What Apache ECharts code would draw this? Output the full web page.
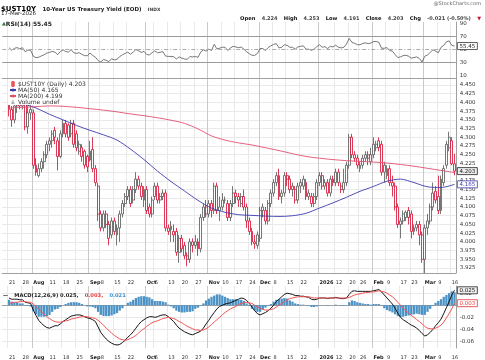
<!DOCTYPE html>
<html><head><meta charset="utf-8">
<script src="https://cdn.jsdelivr.net/npm/echarts@6/dist/echarts.min.js"></script>
<style>html,body{margin:0;padding:0;background:#fff}#c{width:485px;height:360px}</style>
</head><body><div id="c"></div>
<script>
// ---------- DATA ----------
const dates = ['2025-07-17','2025-07-18','2025-07-21','2025-07-22','2025-07-23','2025-07-24','2025-07-25','2025-07-28','2025-07-29','2025-07-30','2025-07-31','2025-08-01','2025-08-04','2025-08-05','2025-08-06','2025-08-07','2025-08-08','2025-08-11','2025-08-12','2025-08-13','2025-08-14','2025-08-15','2025-08-18','2025-08-19','2025-08-20','2025-08-21','2025-08-22','2025-08-25','2025-08-26','2025-08-27','2025-08-28','2025-08-29','2025-09-02','2025-09-03','2025-09-04','2025-09-05','2025-09-08','2025-09-09','2025-09-10','2025-09-11','2025-09-12','2025-09-15','2025-09-16','2025-09-17','2025-09-18','2025-09-19','2025-09-22','2025-09-23','2025-09-24','2025-09-25','2025-09-26','2025-09-29','2025-09-30','2025-10-01','2025-10-02','2025-10-03','2025-10-06','2025-10-07','2025-10-08','2025-10-09','2025-10-10','2025-10-13','2025-10-14','2025-10-15','2025-10-16','2025-10-17','2025-10-20','2025-10-21','2025-10-22','2025-10-23','2025-10-24','2025-10-27','2025-10-28','2025-10-29','2025-10-30','2025-10-31','2025-11-03','2025-11-04','2025-11-05','2025-11-06','2025-11-07','2025-11-10','2025-11-11','2025-11-12','2025-11-13','2025-11-14','2025-11-17','2025-11-18','2025-11-19','2025-11-20','2025-11-21','2025-11-24','2025-11-25','2025-11-26','2025-11-28','2025-12-01','2025-12-02','2025-12-03','2025-12-04','2025-12-05','2025-12-08','2025-12-09','2025-12-10','2025-12-11','2025-12-12','2025-12-15','2025-12-16','2025-12-17','2025-12-18','2025-12-19','2025-12-22','2025-12-23','2025-12-24','2025-12-26','2025-12-29','2025-12-30','2025-12-31','2026-01-02','2026-01-05','2026-01-06','2026-01-07','2026-01-08','2026-01-09','2026-01-12','2026-01-13','2026-01-14','2026-01-15','2026-01-16','2026-01-20','2026-01-21','2026-01-22','2026-01-23','2026-01-26','2026-01-27','2026-01-28','2026-01-29','2026-01-30','2026-02-02','2026-02-03','2026-02-04','2026-02-05','2026-02-06','2026-02-09','2026-02-10','2026-02-11','2026-02-12','2026-02-13','2026-02-17','2026-02-18','2026-02-19','2026-02-20','2026-02-23','2026-02-24','2026-02-25','2026-02-26','2026-02-27','2026-03-02','2026-03-03','2026-03-04','2026-03-05','2026-03-06','2026-03-09','2026-03-10','2026-03-11','2026-03-12','2026-03-13','2026-03-16','2026-03-17'];

// [open, close, low, high]
const ohlc = [null,null,
[4.42,4.38,4.36,4.43],[4.38,4.35,4.33,4.39],[4.35,4.39,4.34,4.40],[4.39,4.41,4.37,4.43],[4.41,4.39,4.38,4.42],
[4.39,4.42,4.38,4.43],[4.42,4.33,4.32,4.42],[4.33,4.37,4.31,4.39],[4.38,4.37,4.35,4.40],[4.37,4.22,4.21,4.38],
[4.22,4.20,4.19,4.24],[4.19,4.21,4.185,4.225],[4.21,4.23,4.20,4.24],[4.23,4.25,4.21,4.26],[4.25,4.28,4.24,4.29],
[4.28,4.29,4.26,4.30],[4.29,4.31,4.27,4.32],[4.32,4.30,4.28,4.33],[4.29,4.245,4.205,4.30],[4.245,4.31,4.24,4.32],
[4.31,4.34,4.30,4.35],[4.34,4.31,4.30,4.35],[4.335,4.30,4.29,4.34],[4.31,4.34,4.30,4.35],[4.34,4.28,4.27,4.35],
[4.31,4.27,4.26,4.32],[4.26,4.28,4.25,4.29],[4.27,4.245,4.23,4.28],[4.26,4.22,4.21,4.265],[4.245,4.215,4.20,4.25],
[4.235,4.26,4.23,4.29],[4.265,4.21,4.20,4.30],[4.21,4.17,4.16,4.22],[4.16,4.08,4.06,4.17],[4.08,4.04,4.03,4.09],
[4.04,4.08,4.03,4.09],[4.08,4.05,4.04,4.09],[4.05,4.01,3.99,4.06],[4.02,4.06,4.01,4.07],[4.06,4.03,4.02,4.07],
[4.02,4.04,3.99,4.05],[4.04,4.08,4.00,4.09],[4.08,4.11,4.07,4.12],[4.11,4.13,4.10,4.14],[4.13,4.15,4.12,4.16],
[4.15,4.11,4.10,4.16],[4.12,4.15,4.11,4.16],[4.15,4.18,4.14,4.20],[4.18,4.16,4.15,4.19],[4.16,4.13,4.12,4.17],
[4.12,4.15,4.10,4.16],[4.15,4.09,4.08,4.16],[4.10,4.08,4.07,4.11],[4.08,4.12,4.07,4.13],[4.13,4.16,4.12,4.17],
[4.16,4.12,4.11,4.17],[4.12,4.13,4.11,4.14],[4.13,4.14,4.12,4.15],[4.14,4.04,4.03,4.15],[4.04,4.03,4.02,4.05],
[4.045,4.035,4.00,4.06],[4.03,4.02,4.00,4.05],[4.03,3.97,3.96,4.04],[3.97,4.01,3.94,4.02],[4.01,3.98,3.97,4.02],
[3.99,3.96,3.95,4.00],[3.96,3.95,3.93,3.97],[3.95,4.00,3.94,4.01],[4.00,3.99,3.97,4.01],[3.99,4.00,3.98,4.02],
[4.00,3.98,3.96,4.01],[3.98,4.07,3.97,4.08],[4.07,4.10,4.06,4.11],[4.10,4.08,4.07,4.12],[4.08,4.11,4.07,4.12],
[4.11,4.09,4.07,4.12],[4.09,4.16,4.08,4.17],[4.16,4.09,4.08,4.17],[4.09,4.10,4.06,4.13],[4.10,4.12,4.09,4.14],
[4.12,4.12,4.11,4.13],[4.11,4.07,4.06,4.12],[4.07,4.11,4.06,4.12],[4.11,4.14,4.10,4.16],[4.14,4.13,4.11,4.15],
[4.13,4.12,4.10,4.14],[4.11,4.13,4.10,4.14],[4.13,4.10,4.09,4.15],[4.10,4.06,4.04,4.11],[4.06,4.03,4.02,4.07],
[4.03,4.00,3.99,4.04],[4.00,3.995,3.98,4.02],[3.99,4.02,3.98,4.03],[4.01,4.09,4.00,4.10],[4.10,4.09,4.07,4.11],
[4.09,4.06,4.05,4.10],[4.06,4.11,4.05,4.12],[4.11,4.14,4.10,4.15],[4.14,4.17,4.13,4.18],[4.17,4.19,4.16,4.20],
[4.19,4.13,4.12,4.21],[4.13,4.14,4.11,4.15],[4.14,4.19,4.13,4.20],[4.19,4.18,4.16,4.20],[4.18,4.15,4.14,4.19],
[4.16,4.15,4.13,4.17],[4.15,4.12,4.11,4.16],[4.12,4.16,4.11,4.17],[4.16,4.17,4.14,4.18],[4.16,4.18,4.15,4.19],
[4.17,4.13,4.12,4.18],[4.14,4.13,4.12,4.15],[4.13,4.11,4.10,4.14],[4.11,4.13,4.10,4.14],[4.13,4.17,4.12,4.18],
[4.17,4.19,4.16,4.20],[4.19,4.16,4.15,4.20],[4.16,4.17,4.15,4.18],[4.17,4.14,4.13,4.18],[4.14,4.18,4.13,4.19],
[4.18,4.17,4.16,4.19],[4.17,4.20,4.16,4.21],[4.20,4.17,4.16,4.21],[4.15,4.16,4.14,4.17],[4.15,4.17,4.14,4.21],
[4.17,4.22,4.16,4.23],[4.22,4.30,4.21,4.31],[4.30,4.25,4.24,4.31],[4.25,4.24,4.23,4.26],[4.24,4.22,4.21,4.25],
[4.21,4.22,4.20,4.23],[4.22,4.24,4.21,4.25],[4.24,4.25,4.23,4.26],[4.25,4.24,4.22,4.26],[4.23,4.25,4.22,4.27],
[4.25,4.28,4.24,4.30],[4.27,4.28,4.26,4.29],[4.29,4.27,4.26,4.30],[4.28,4.20,4.19,4.29],[4.22,4.20,4.17,4.23],
[4.19,4.21,4.18,4.22],[4.21,4.17,4.16,4.22],[4.17,4.16,4.13,4.19],[4.16,4.10,4.09,4.17],[4.10,4.05,4.04,4.11],
[4.05,4.06,4.01,4.07],[4.06,4.08,4.05,4.09],[4.07,4.085,4.06,4.09],[4.09,4.07,4.05,4.10],[4.08,4.03,4.01,4.09],
[4.03,4.04,4.02,4.05],[4.04,4.05,4.03,4.06],[4.05,4.02,3.99,4.06],[4.02,3.95,3.94,4.03],[3.95,4.04,3.91,4.05],
[4.04,4.06,4.02,4.08],[4.06,4.10,4.05,4.11],[4.10,4.14,4.09,4.17],[4.145,4.12,4.11,4.16],[4.13,4.09,4.08,4.19],
[4.09,4.18,4.08,4.19],[4.17,4.21,4.16,4.22],[4.22,4.28,4.21,4.29],[4.27,4.30,4.26,4.316],[4.29,4.224,4.22,4.30],
[4.224,4.203,4.191,4.253]];

const ma50Pts = [['2025-07-21',4.405],['2025-07-28',4.396],['2025-08-04',4.384],['2025-08-11',4.366],['2025-08-18',4.350],['2025-08-25',4.334],['2025-09-02',4.320],['2025-09-09',4.307],['2025-09-16',4.292],['2025-09-23',4.266],['2025-09-30',4.236],['2025-10-07',4.203],['2025-10-14',4.173],['2025-10-21',4.146],['2025-10-28',4.119],['2025-11-04',4.097],['2025-11-11',4.085],['2025-11-18',4.078],['2025-11-25',4.076],['2025-12-03',4.074],['2025-12-10',4.073],['2025-12-17',4.075],['2025-12-24',4.082],['2026-01-02',4.097],['2026-01-09',4.112],['2026-01-16',4.128],['2026-01-26',4.145],['2026-02-02',4.159],['2026-02-09',4.174],['2026-02-17',4.180],['2026-02-24',4.170],['2026-03-03',4.158],['2026-03-10',4.156],['2026-03-17',4.165]];
const ma200Pts = [['2025-07-21',4.384],['2025-07-28',4.386],['2025-08-04',4.388],['2025-08-11',4.390],['2025-08-18',4.389],['2025-08-25',4.386],['2025-09-02',4.382],['2025-09-09',4.378],['2025-09-16',4.373],['2025-09-23',4.367],['2025-09-30',4.362],['2025-10-07',4.356],['2025-10-14',4.349],['2025-10-21',4.340],['2025-10-28',4.324],['2025-11-04',4.304],['2025-11-11',4.292],['2025-11-18',4.284],['2025-11-25',4.278],['2025-12-03',4.270],['2025-12-10',4.262],['2025-12-17',4.253],['2025-12-24',4.245],['2026-01-02',4.240],['2026-01-09',4.236],['2026-01-16',4.233],['2026-01-26',4.231],['2026-02-02',4.229],['2026-02-09',4.226],['2026-02-17',4.222],['2026-02-24',4.217],['2026-03-03',4.211],['2026-03-10',4.205],['2026-03-17',4.199]];

const rsi = [null,null,
52.9,49.0,51.8,53.0,51.3,52.8,46.5,49.2,48.8,39.5, 37.2,38.0,40.0,41.8,44.5,45.5,47.0,46.0,42.0,46.8,
49.5,46.8,46.0,49.8,44.8,44.0,45.0,42.3,40.5,40.2, 44.5,40.8,38.0,32.8,30.5,34.5,33.0,31.2,35.5,33.8,
34.8,38.8,41.8,43.8,46.0,42.5,46.0,50.0,48.0,45.5, 47.0,42.2,41.5,45.0,48.0,45.0,45.8,46.6,39.8,39.2,
39.2,38.8,35.2,38.5,36.5,35.2,34.6,39.0,38.4,39.2, 37.8,46.0,49.5,47.5,50.5,48.5,58.0,51.0,52.0,53.6,
53.6,48.5,52.5,55.0,54.0,53.0,53.8,50.5,46.5,43.5, 41.0,40.8,43.8,51.5,51.5,48.5,53.0,55.8,58.0,59.2,
52.5,53.5,57.5,56.5,53.5,53.5,50.5,54.0,55.0,55.8, 50.5,50.5,48.8,50.5,54.5,57.5,53.5,54.5,51.5,55.0,
54.0,56.8,53.5,52.5,53.5,58.5,67.5,61.0,59.8,57.5, 57.5,59.5,60.5,59.2,60.0,62.5,62.5,61.2,52.0,52.0,
53.0,48.5,47.5,42.0,37.5,38.5,40.5,41.0,39.5,36.5, 37.5,38.5,36.0,30.5,39.5,41.5,45.5,49.5,47.5,45.0,
53.5,56.5,62.0,63.5,56.5,55.45];

const macd = [null,null,
0.012,0.010,0.010,0.010,0.009,0.009,0.005,0.004,0.003,-0.008,
-0.017,-0.025,-0.030,-0.034,-0.037,-0.038,-0.036,-0.034,-0.034,-0.031,
-0.027,-0.024,-0.021,-0.018,-0.017,-0.016,-0.016,-0.017,-0.019,-0.021,
-0.022,-0.024,-0.027,-0.036,-0.045,-0.051,-0.056,-0.060,-0.063,-0.065,
-0.066,-0.065,-0.062,-0.058,-0.053,-0.049,-0.044,-0.038,-0.032,-0.027,
-0.024,-0.021,-0.019,-0.019,-0.020,-0.019,-0.017,-0.016,-0.016,-0.019,
-0.023,-0.027,-0.033,-0.038,-0.041,-0.044,-0.046,-0.048,-0.049,-0.047,
-0.045,-0.043,-0.038,-0.031,-0.025,-0.018,-0.012,-0.006,-0.002,0.000,
0.002,0.003,0.004,0.006,0.008,0.010,0.012,0.011,0.008,0.003,
-0.003,-0.009,-0.014,-0.016,-0.014,-0.012,-0.009,-0.005,0.000,0.006,
0.010,0.014,0.018,0.020,0.019,0.018,0.016,0.016,0.015,0.015,
0.014,0.013,0.010,0.009,0.010,0.012,0.012,0.012,0.011,0.012,
0.012,0.013,0.012,0.011,0.011,0.012,0.018,0.023,0.024,0.023,
0.023,0.023,0.023,0.023,0.023,0.024,0.025,0.026,0.022,0.017,
0.012,0.007,0.002,-0.005,-0.013,-0.020,-0.024,-0.027,-0.030,-0.033,
-0.035,-0.038,-0.042,-0.047,-0.051,-0.049,-0.045,-0.040,-0.034,-0.029,
-0.023,-0.014,-0.004,0.006,0.017,0.0248];

const signal = [null,null,
0.003,0.004,0.005,0.005,0.006,0.006,0.006,0.005,0.005,0.002,
-0.002,-0.006,-0.011,-0.015,-0.019,-0.022,-0.025,-0.027,-0.028,-0.028,
-0.027,-0.026,-0.025,-0.023,-0.022,-0.021,-0.020,-0.019,-0.019,-0.019,
-0.020,-0.021,-0.022,-0.025,-0.029,-0.033,-0.038,-0.042,-0.046,-0.050,
-0.053,-0.056,-0.057,-0.058,-0.057,-0.055,-0.053,-0.050,-0.046,-0.042,
-0.039,-0.035,-0.032,-0.029,-0.027,-0.026,-0.024,-0.022,-0.021,-0.020,
-0.021,-0.022,-0.024,-0.027,-0.029,-0.032,-0.035,-0.037,-0.039,-0.041,
-0.041,-0.042,-0.041,-0.039,-0.036,-0.032,-0.028,-0.024,-0.020,-0.016,
-0.012,-0.009,-0.006,-0.004,-0.002,0.001,0.003,0.004,0.005,0.004,
0.003,0.000,-0.003,-0.005,-0.007,-0.008,-0.008,-0.007,-0.006,-0.003,
0.000,0.003,0.006,0.009,0.011,0.012,0.013,0.014,0.014,0.014,
0.014,0.014,0.013,0.012,0.012,0.012,0.012,0.012,0.012,0.012,
0.012,0.012,0.012,0.012,0.012,0.012,0.013,0.015,0.017,0.018,
0.019,0.020,0.021,0.021,0.022,0.022,0.023,0.024,0.023,0.022,
0.020,0.017,0.014,0.010,0.005,0.000,-0.005,-0.009,-0.013,-0.017,
-0.020,-0.024,-0.027,-0.031,-0.035,-0.038,-0.039,-0.039,-0.038,-0.036,
-0.033,-0.028,-0.021,-0.014,-0.006,0.0034];

const tickDates = ['2025-07-21','2025-07-28','2025-08-01','2025-08-11','2025-08-18','2025-08-25','2025-09-02','2025-09-08','2025-09-15','2025-09-22','2025-10-01','2025-10-06','2025-10-13','2025-10-20','2025-10-27','2025-11-03','2025-11-10','2025-11-17','2025-11-24','2025-12-01','2025-12-08','2025-12-15','2025-12-22','2026-01-02','2026-01-12','2026-01-20','2026-01-26','2026-02-02','2026-02-09','2026-02-17','2026-02-23','2026-03-02','2026-03-09','2026-03-16'];
const tickTexts = ['21','28','Aug','11','18','25','Sep','8','15','22','Oct','6','13','20','27','Nov','10','17','24','Dec','8','15','22','2026','12','20','26','Feb','9','17','23','Mar','9','16'];
const priceTicks = [3.925,3.95,3.975,4.0,4.025,4.05,4.075,4.1,4.125,4.15,4.175,4.2,4.225,4.25,4.275,4.3,4.325,4.35,4.375,4.4,4.425,4.45];
const rsiTicks = [10,30,50,70,90];
const macdTicks = [-0.06,-0.04,-0.02,0,0.02];

// ---------- CHART ----------
const FF = 'DejaVu Sans';
const N = dates.length;
const chart = echarts.init(document.getElementById('c'));
const gridL = 2.25, gridW = 453.6, gridR = 485 - gridL - gridW;
const UPC = '#555', DNC = '#d40a2e';

const tickMap = {};
tickDates.forEach((d, k) => { tickMap[d] = tickTexts[k]; });
const isBold = t => isNaN(+t) || t.length === 4;
const isTick = (idx, val) => tickMap[val] !== undefined;
const fmtTick = v => { const t = tickMap[v]; if (t === undefined) return ''; return isBold(t) ? '{b|' + t + '}' : t; };
const splitColors = tickTexts.map(t => isBold(t) ? '#c9c9c9' : '#e9e9e9');

const candleData = ohlc.map((d, i) => {
  if (!d) return '-';
  const pc = (i > 0 && ohlc[i - 1]) ? ohlc[i - 1][1] : d[0];
  const col = d[1] >= pc ? UPC : DNC;
  return { value: d, itemStyle: { color: '#fff', borderColor: col, color0: col, borderColor0: col } };
});
const hist = macd.map((m, i) => (m === null ? '-' : +(m - signal[i]).toFixed(4)));

const last = ohlc[N - 1], prevC = ohlc[N - 2][1];
const chg = last[1] - prevC, pct = chg / prevC * 100;
const mon = ['Jan','Feb','Mar','Apr','May','Jun','Jul','Aug','Sep','Oct','Nov','Dec'];
const dp = dates[N - 1].split('-');
const dateTxt = dp[2] + '-' + mon[+dp[1] - 1] + '-' + dp[0];
const ma50Last = ma50Pts[ma50Pts.length - 1][1], ma200Last = ma200Pts[ma200Pts.length - 1][1];
const nameC = '$UST10Y (Daily) ' + last[1].toFixed(3);
const nameM50 = 'MA(50) ' + ma50Last.toFixed(3);
const nameM200 = 'MA(200) ' + ma200Last.toFixed(3);
const nameVol = 'Volume undef';
const mL = macd[N - 1], sL = signal[N - 1], hL = mL - sL;

function xa(gi, showLabel) {
  return {
    type: 'category', gridIndex: gi, data: dates, boundaryGap: true,
    axisLine: { show: true, lineStyle: { color: '#a0a0a0', width: 1 } },
    axisTick: { show: false },
    axisLabel: { show: showLabel, interval: isTick, hideOverlap: false, formatter: fmtTick, fontSize: 5, fontFamily: FF, color: '#333', align: 'left', margin: 7,
      rich: { b: { fontWeight: 'bold', fontSize: 5, fontFamily: FF, color: '#222' } } },
    splitLine: { show: true, interval: isTick, lineStyle: { color: splitColors, width: 1 } }
  };
}
const yLab = { fontSize: 5.5, fontFamily: FF, color: '#333', margin: 4, hideOverlap: false };

const option = {
  animation: false,
  backgroundColor: '#fff',
  textStyle: { fontFamily: FF },
  title: [
    { left: 1, top: 0.5, padding: 0, text: '{a|$UST10Y} {b|10-Year US Treasury Yield (EOD)} {c|INDX}',
      textStyle: { rich: { a: { fontSize: 7, fontWeight: 'bold', fontFamily: FF, color: '#000', lineHeight: 8 }, b: { fontSize: 5.5, fontFamily: FF, color: '#222', lineHeight: 8 }, c: { fontSize: 4.5, fontFamily: FF, color: '#444', lineHeight: 8 } } } },
    { left: 1, top: 11, padding: 0, text: dateTxt, textStyle: { fontSize: 5.5, fontWeight: 'normal', fontFamily: FF, color: '#222' } },
    { right: 4, top: 1, padding: 0, text: '@StockCharts.com', textStyle: { fontSize: 5, fontWeight: 'normal', fontFamily: FF, color: '#666' } },
    { right: 4, top: 10, padding: 0,
      text: '{l|Open} {v|' + last[0].toFixed(3) + '} {l|High} {v|' + last[3].toFixed(3) + '} {l|Low} {v|' + last[2].toFixed(3) + '} {l|Close} {v|' + last[1].toFixed(3) + '} {l|Chg} {v|' + chg.toFixed(3) + ' (' + pct.toFixed(2) + '%)} {r|▼}',
      textStyle: { rich: { l: { fontSize: 5.2, fontWeight: 'bold', fontFamily: FF, color: '#111' }, v: { fontSize: 5, fontFamily: FF, color: '#444' }, r: { fontSize: 5, color: '#d40a2e' } } } },
    { left: 2, top: 21, padding: 0, text: '{i|▲}{t|RSI(14) ' + rsi[N - 1].toFixed(2) + '}',
      textStyle: { rich: { i: { fontSize: 5, color: '#2d7a3a' }, t: { fontSize: 6, fontFamily: FF, color: '#222' } } } },
    { left: 3, top: 287, padding: 0,
      text: '{k|—} {t|MACD(12,26,9) ' + mL.toFixed(3) + ',} {r|' + sL.toFixed(3) + ',} {u|' + hL.toFixed(3) + '}',
      textStyle: { rich: { k: { fontSize: 5, color: '#111' }, t: { fontSize: 5.2, fontFamily: FF, color: '#222' }, r: { fontSize: 5.2, fontFamily: FF, color: '#e8383d' }, u: { fontSize: 5.2, fontFamily: FF, color: '#3a8fd0' } } } }
  ],
  legend: {
    left: 8, top: 81, orient: 'vertical', itemGap: 0, itemWidth: 6, itemHeight: 4, padding: [0, 2, 0, 1],
    backgroundColor: '#fff', selectedMode: false,
    textStyle: { fontSize: 6, lineHeight: 6, fontFamily: FF, color: '#333', padding: [0, 0, 0, -3] },
    data: [
      { name: nameC, icon: 'path://M1.5,0H2.5V2H4V8H2.5V10H1.5V8H0V2H1.5Z', itemStyle: { color: '#111' } },
      { name: nameM50 },
      { name: nameM200 },
      { name: nameVol, icon: 'path://M0,4H1.5V10H0ZM2.5,0H4V10H2.5ZM5,6H6.5V10H5Z', itemStyle: { color: '#777' } }
    ]
  },
  grid: [
    { left: gridL, right: gridR, top: 22, height: 56 },
    { left: gridL, right: gridR, top: 78, height: 195 },
    { left: gridL, right: gridR, top: 286, height: 66 }
  ],
  xAxis: [xa(0, false), xa(1, true), xa(2, true)],
  yAxis: [
    { type: 'value', gridIndex: 0, position: 'right', min: 5.5, max: 93,
      axisLine: { show: true, lineStyle: { color: '#a0a0a0' } }, axisTick: { show: false, customValues: rsiTicks },
      axisLabel: Object.assign({ customValues: rsiTicks }, yLab), splitLine: { show: false } },
    { type: 'value', gridIndex: 1, position: 'right', min: 3.9107, max: 4.4701,
      axisLine: { show: true, lineStyle: { color: '#a0a0a0' } }, axisTick: { show: false, customValues: priceTicks },
      axisLabel: Object.assign({ customValues: priceTicks, formatter: v => v.toFixed(3) }, yLab),
      splitLine: { show: true, lineStyle: { color: '#e9e9e9', width: 1 } } },
    { type: 'value', gridIndex: 2, position: 'right', min: -0.0709, max: 0.0319,
      axisLine: { show: true, lineStyle: { color: '#a0a0a0' } }, axisTick: { show: false, customValues: macdTicks },
      axisLabel: Object.assign({ customValues: macdTicks, formatter: v => v.toFixed(2) }, yLab),
      splitLine: { show: true, lineStyle: { color: '#e9e9e9', width: 1 } } }
  ],
  series: [
    { name: nameC, type: 'candlestick', xAxisIndex: 1, yAxisIndex: 1, data: candleData, barWidth: '88%',
      itemStyle: { borderWidth: 0.8 } },
    { name: nameM50, type: 'line', xAxisIndex: 1, yAxisIndex: 1, data: ma50Pts, smooth: 0.3, symbol: 'none',
      lineStyle: { color: '#3b3bb0', width: 0.9 }, itemStyle: { color: '#3b3bb0' } },
    { name: nameM200, type: 'line', xAxisIndex: 1, yAxisIndex: 1, data: ma200Pts, smooth: 0.3, symbol: 'none',
      lineStyle: { color: '#e2506e', width: 0.9 }, itemStyle: { color: '#e2506e' } },
    { name: nameVol, type: 'bar', xAxisIndex: 1, yAxisIndex: 1, data: [], itemStyle: { color: '#777' } },
    { name: 'RSI', type: 'line', xAxisIndex: 0, yAxisIndex: 0, data: rsi, symbol: 'none',
      lineStyle: { color: '#555', width: 0.8 },
      markLine: { silent: true, symbol: 'none', label: { show: false },
        data: [ { yAxis: 70, lineStyle: { color: '#9a9a9a', type: 'solid', width: 1 } },
                { yAxis: 30, lineStyle: { color: '#9a9a9a', type: 'solid', width: 1 } },
                { yAxis: 50, lineStyle: { color: '#aaa', type: [4, 2, 1, 2], width: 1 } } ] } },
    { name: 'Hist', type: 'bar', xAxisIndex: 2, yAxisIndex: 2, data: hist, barWidth: '85%',
      itemStyle: { color: '#4b93c6' } },
    { name: 'MACD', type: 'line', xAxisIndex: 2, yAxisIndex: 2, data: macd, symbol: 'none',
      lineStyle: { color: '#151515', width: 1 } },
    { name: 'Signal', type: 'line', xAxisIndex: 2, yAxisIndex: 2, data: signal, symbol: 'none',
      lineStyle: { color: '#f05555', width: 1 } }
  ]
};
chart.setOption(option);

// value tags on the right axis
const gx = gridL + gridW + 1.5;
function tag(ax, val, txt, stroke, textColor, fill) {
  const y = chart.convertToPixel({ yAxisIndex: ax }, val);
  return { type: 'group', x: gx, y: y - 3.5, z: 100, children: [
    { type: 'rect', z: 100, shape: { x: 0, y: 0, width: 20, height: 7 }, style: { fill: fill, stroke: stroke, lineWidth: 0.8 } },
    { type: 'text', z: 101, x: 10, y: 3.7, style: { text: txt, fill: textColor, font: '5.5px "DejaVu Sans"', align: 'center', verticalAlign: 'middle' } }
  ] };
}
chart.setOption({ graphic: [
  tag(0, rsi[N - 1], rsi[N - 1].toFixed(2), '#333', '#222', '#fff'),
  tag(1, last[1], last[1].toFixed(3), '#222', '#111', '#eee'),
  tag(1, ma50Last, ma50Last.toFixed(3), '#3b3bb0', '#3b3bb0', '#fff'),
  tag(2, mL, mL.toFixed(3), '#222', '#111', '#eee'),
  tag(2, sL, sL.toFixed(3), '#e8383d', '#e8383d', '#fff')
] });
</script>
</body></html>
